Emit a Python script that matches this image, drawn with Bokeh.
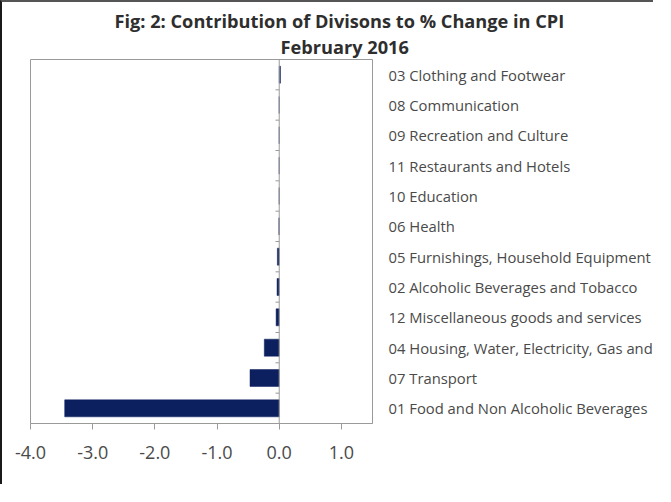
from bokeh.plotting import figure
from bokeh.models import Range1d, LinearAxis, FixedTicker, PrintfTickFormatter, Title, Span, ColumnDataSource
from bokeh.embed import file_html
from bokeh.resources import INLINE

# Data (top to bottom as shown)
categories = [
    "03 Clothing and Footwear",
    "08 Communication",
    "09 Recreation and Culture",
    "11 Restaurants and Hotels",
    "10 Education",
    "06 Health",
    "05 Furnishings, Household Equipment",
    "02 Alcoholic Beverages and Tobacco",
    "12 Miscellaneous goods and services",
    "04 Housing, Water, Electricity, Gas and",
    "07 Transport",
    "01 Food and Non Alcoholic Beverages",
]
values = [0.02, 0.0, 0.0, 0.0, 0.0, -0.005, -0.03, -0.035, -0.05, -0.24, -0.47, -3.45]
x_ticks = [-4, -3, -2, -1, 0, 1]
x_min, x_max = -4.0, 1.5
title_lines = ["Fig: 2: Contribution of Divisons to % Change in CPI", "February 2016"]

FONT = "Open Sans"
LABEL_COLOR = "#4a4a4a"
GRID_GRAY = "#9a9a9a"
BAR_COLOR = "#0c1f5e"

n = len(categories)
ypos = list(range(n))
src = ColumnDataSource(dict(y=ypos, v=values, zero=[0] * n, cat=categories))

W, H = 653, 484
FRAME_W, FRAME_H = 343, 364
p = figure(
    width=W, height=H,
    x_range=Range1d(x_min, x_max),
    y_range=Range1d(n - 0.5, -0.5),
    output_backend="svg", toolbar_location=None,
    min_border_left=28, min_border_top=57, min_border_bottom=H - 57 - FRAME_H,
    min_border_right=W - 28 - FRAME_W,
    y_axis_location=None,
)
p.styles = {"border-left": "2px solid #1a1a1a", "border-top": "2px solid #555555"}
p.background_fill_color = "white"
p.border_fill_color = "white"
p.outline_line_color = GRID_GRAY
p.outline_line_width = 1
p.xgrid.visible = False
p.ygrid.visible = False

# bars
p.hbar(y="y", left="zero", right="v", height=0.56, source=src,
       fill_color=BAR_COLOR, line_color=BAR_COLOR, line_width=0.5)

# vertical axis at zero
p.add_layout(Span(location=0, dimension="height", line_color=GRID_GRAY, line_width=1))
bounds = [i + 0.5 for i in range(n - 1)]
p.segment(x0=[-0.06] * len(bounds), x1=[0] * len(bounds), y0=bounds, y1=bounds,
          line_color=GRID_GRAY, line_width=1)

# x axis
xa = p.xaxis[0]
xa.ticker = FixedTicker(ticks=x_ticks)
xa.formatter = PrintfTickFormatter(format="%.1f")
xa.minor_tick_line_color = None
xa.major_tick_out = 6
xa.major_tick_in = 0
xa.axis_line_color = GRID_GRAY
xa.major_tick_line_color = GRID_GRAY
xa.major_label_text_font = FONT
xa.major_label_text_font_size = "18px"
xa.major_label_text_color = LABEL_COLOR
xa.major_label_standoff = 16

# category labels on the right
ra = LinearAxis(
    ticker=FixedTicker(ticks=ypos),
    major_label_overrides={i: c for i, c in enumerate(categories)},
)
ra.axis_line_color = None
ra.major_tick_line_color = None
ra.minor_tick_line_color = None
ra.major_label_standoff = 10
ra.major_label_text_font = FONT
ra.major_label_text_font_size = "14.8px"
ra.major_label_text_color = LABEL_COLOR
p.add_layout(ra, "right")

# title: second line added first (closest to the frame), then first line
sub = Title(text=title_lines[1], align="left", offset=250, standoff=1,
            text_font=FONT, text_font_style="bold", text_font_size="18.2px", text_color="#2e2e2e")
main = Title(text=title_lines[0], align="left", offset=84, standoff=0,
             text_font=FONT, text_font_style="bold", text_font_size="18.2px", text_color="#2e2e2e")
p.add_layout(sub, "above")
p.add_layout(main, "above")

open("out.html", "w").write(file_html(p, INLINE))
